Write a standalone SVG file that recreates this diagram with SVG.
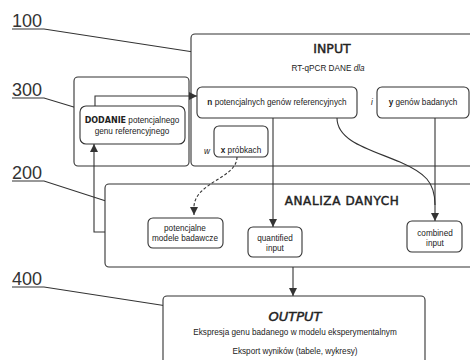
<svg xmlns="http://www.w3.org/2000/svg" width="470" height="360" viewBox="0 0 470 360">
<defs>
<style>
.box{fill:#fff;stroke:#333;stroke-width:1.1}
.ln{fill:none;stroke:#333;stroke-width:1.1}
.dash{fill:none;stroke:#333;stroke-width:1.1;stroke-dasharray:3 2}
.t{font-family:"Liberation Sans",Arial,sans-serif;font-size:8.2px;fill:#222;text-anchor:middle}
.ttl{font-family:"DejaVu Sans",sans-serif;font-weight:normal;fill:#222;stroke:#222;stroke-width:0.45;text-anchor:middle}
.lab{font-family:"Liberation Sans",Arial,sans-serif;font-size:18px;fill:#333}
</style>
<marker id="ar" viewBox="0 0 10 10" refX="10" refY="5" markerWidth="8" markerHeight="8" markerUnits="userSpaceOnUse" orient="auto">
<path d="M0,0 L10,5 L0,10 z" fill="#333"/>
</marker>
</defs>
<rect width="470" height="360" fill="#fff"/>

<g id="labels">
<text class="lab" x="12" y="27">100</text>
<text class="lab" x="12" y="96">300</text>
<text class="lab" x="12" y="179">200</text>
<text class="lab" x="12" y="285">400</text>
<path class="ln" d="M12,29 H44 L200,53"/>
<path class="ln" d="M12,98 H44 L77,108"/>
<path class="ln" d="M12,181 H44 L109,202"/>
<path class="ln" d="M12,287 H44 L167,306"/>
</g>

<g id="box300">
<rect class="box" x="74" y="77" width="115" height="89" rx="4"/>
</g>

<g id="input">
<rect class="box" x="191" y="34" width="300" height="132" rx="4"/>
<text class="ttl" x="332" y="53" font-size="12.5">INPUT</text>
<text class="t" x="328" y="71">RT-qPCR DANE <tspan font-style="italic">dla</tspan></text>
</g>

<g id="analiza">
<rect class="box" x="105" y="184" width="380" height="83" rx="4"/>
<text class="ttl" x="342" y="205" font-size="12" letter-spacing="0.6">ANALIZA DANYCH</text>
</g>

<g id="output">
<rect class="box" x="163" y="296" width="262" height="80" rx="4"/>
<text class="ttl" x="295" y="321" font-size="13" font-style="italic">OUTPUT</text>
<text class="t" x="295" y="335">Ekspresja genu badanego w modelu eksperymentalnym</text>
<text class="t" x="295" y="354">Eksport wyników (tabele, wykresy)</text>
</g>

<g id="connectors">
<path class="ln" d="M95,106 V96 H197" marker-end="url(#ar)"/>
<path class="ln" d="M105,232 H94 V144" marker-end="url(#ar)"/>
<path class="ln" d="M273,118 V227" marker-end="url(#ar)"/>
<path class="ln" d="M435,118 V221" marker-end="url(#ar)"/>
<path class="ln" d="M337,118 C337,142 372,150 400,162 C425,173 435,182 435,205"/>
<path class="dash" d="M237,157 C237,178 196,182 194,206 L194,215" marker-end="url(#ar)"/>
<path class="ln" d="M293,267 V296" marker-end="url(#ar)"/>
</g>

<g id="dodanie">
<rect class="box" x="80" y="106" width="105" height="38" rx="6"/>
<text class="t" x="132" y="123"><tspan font-family="DejaVu Sans,sans-serif" font-weight="bold" font-size="8">DODANIE</tspan> potencjalnego</text>
<text class="t" x="132" y="134">genu referencyjnego</text>
</g>

<g id="nbox">
<rect class="box" x="197" y="87" width="160" height="31" rx="5"/>
<text class="t" x="277" y="105"><tspan font-weight="bold">n</tspan> potencjalnych genów referencyjnych</text>
</g>

<text class="t" x="372" y="105" font-style="italic">i</text>

<g id="ybox">
<rect class="box" x="377" y="87" width="92" height="31" rx="5"/>
<text class="t" x="423" y="105"><tspan font-weight="bold">y</tspan> genów badanych</text>
</g>

<text class="t" x="207" y="154" font-style="italic">w</text>

<g id="xbox">
<rect class="box" x="214" y="126" width="54" height="31" rx="5"/>
<text class="t" x="241" y="153"><tspan font-weight="bold">x</tspan> próbkach</text>
</g>

<g id="modele">
<rect class="box" x="148" y="218" width="75" height="30" rx="5"/>
<text class="t" x="185" y="231">potencjalne</text>
<text class="t" x="185" y="241">modele badawcze</text>
</g>

<g id="quantified">
<rect class="box" x="248" y="227" width="54" height="30" rx="5"/>
<text class="t" x="275" y="241">quantified</text>
<text class="t" x="275" y="251">input</text>
</g>

<g id="combined">
<rect class="box" x="407" y="221" width="55" height="31" rx="5"/>
<text class="t" x="435" y="236">combined</text>
<text class="t" x="435" y="246">input</text>
</g>
</svg>
